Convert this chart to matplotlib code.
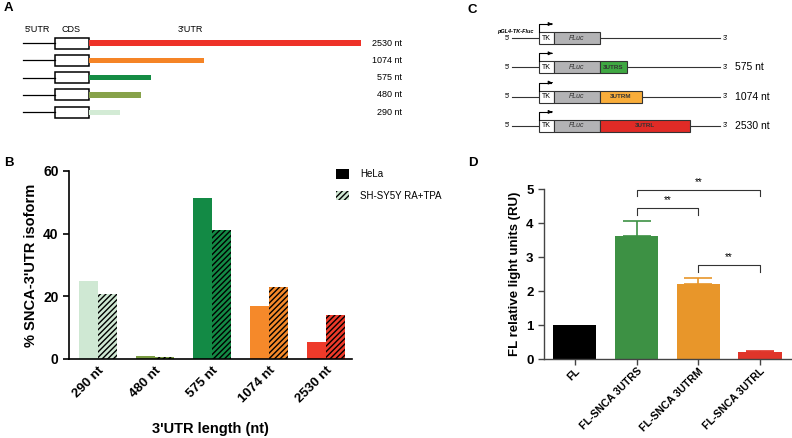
import numpy as np
import matplotlib.pyplot as plt
from matplotlib.patches import Rectangle, Patch

plt.rcParams['font.family'] = ['Liberation Sans', 'DejaVu Sans']
plt.rcParams['hatch.linewidth'] = 1.0

# panel A: 3'UTR isoforms
utr_lengths = [2530, 1074, 575, 480, 290]
utr_colors = ['#ee3228', '#f58426', '#148c44', '#87a24a', '#d3ebd5']

# panel B: isoform distribution
iso_labels = ['290 nt', '480 nt', '575 nt', '1074 nt', '2530 nt']
iso_colors = ['#cfe8d3', '#7a9c42', '#138a45', '#f5892a', '#ee3a2a']
hela = [24.8, 1.0, 51.5, 17.0, 5.5]
shsy5y = [20.8, 0.7, 41.2, 23.1, 14.0]

# panel C: reporter constructs
constructs = ['', '3UTRS', '3UTRM', '3UTRL']
construct_nt = ['', '575 nt', '1074 nt', '2530 nt']
construct_colors = ['none', '#3fa842', '#f9ad3a', '#e12b26']
construct_w = [0, 27, 42, 90]  # schematic box widths (px)

# panel D: luciferase activity
fl_labels = ['FL', 'FL-SNCA 3UTRS', 'FL-SNCA 3UTRM', 'FL-SNCA 3UTRL']
fl_vals = [1.0, 3.63, 2.22, 0.22]
fl_err = [0.0, 0.42, 0.15, 0.03]
fl_colors = ['#000000', '#3d9144', '#e8962a', '#e0352a']
sig_pairs = [(1, 3, 4.97, '**'), (1, 2, 4.44, '**'), (2, 3, 2.76, '**')]

fig = plt.figure(figsize=(7.92, 4.38), dpi=100)

# overlay in pixel coords for the schematics
ax0 = fig.add_axes([0, 0, 1, 1])
ax0.set_xlim(0, 792)
ax0.set_ylim(438, 0)
ax0.axis('off')

for letter, x, y in [('A', 4, 8), ('B', 4, 163), ('C', 468, 10), ('D', 468, 163)]:
    ax0.text(x, y, letter, fontsize=9.5, fontweight='bold', va='center')

# ---- panel A
ax0.text(37, 29, "5'UTR", fontsize=6.5, ha='center', va='center')
ax0.text(71, 29, 'CDS', fontsize=6.5, ha='center', va='center')
ax0.text(190, 29, "3'UTR", fontsize=6.5, ha='center', va='center')
scale_a = 272 / max(utr_lengths)
for i, (n, c) in enumerate(zip(utr_lengths, utr_colors)):
    y = 43 + i * 17.3
    ax0.plot([23, 55], [y, y], color='black', lw=0.9)
    ax0.add_patch(Rectangle((55, y - 5.5), 34, 11, facecolor='white', edgecolor='black', lw=1.1))
    ax0.add_patch(Rectangle((89, y - 2.6), n * scale_a, 5.2, facecolor=c, edgecolor='none'))
    ax0.text(402, y, f'{n} nt', fontsize=6.5, ha='right', va='center')

# ---- panel C
ax0.text(497, 31, 'pGL4-TK-Fluc', fontsize=4, fontstyle='italic', fontweight='bold', va='center')
for i, (name, nt, c, w) in enumerate(zip(constructs, construct_nt, construct_colors, construct_w)):
    y = 38 + i * 29.3
    ax0.text(510, y, "5'", fontsize=5, ha='right', va='center')
    ax0.plot([512, 720], [y, y], color='#333333', lw=0.8, zorder=1)
    ax0.text(723, y, "3'", fontsize=5, ha='left', va='center')
    ax0.add_patch(Rectangle((539, y - 6), 15, 12, facecolor='white', edgecolor='#333333', lw=0.8, zorder=2))
    ax0.text(546.5, y, 'TK', fontsize=5, ha='center', va='center')
    ax0.add_patch(Rectangle((554, y - 6), 46, 12, facecolor='#b3b3b5', edgecolor='#333333', lw=0.8, zorder=2))
    ax0.text(577, y, 'FLuc', fontsize=5, fontstyle='italic', ha='center', va='center', color='#333333')
    if w:
        ax0.add_patch(Rectangle((600, y - 6), w, 12, facecolor=c, edgecolor='#333333', lw=0.8, zorder=2))
        ax0.text(600 + w / 2, y, name, fontsize=4.5, fontweight='bold', ha='center', va='center', color='#333333')
        ax0.text(735, y, nt, fontsize=7.5, ha='left', va='center')
    ax0.plot([539, 539, 551], [y - 6, y - 14, y - 14], color='black', lw=0.8)
    ax0.annotate('', xy=(555, y - 14), xytext=(549, y - 14),
                 arrowprops=dict(arrowstyle='-|>', color='black', lw=0.8, mutation_scale=5))

# ---- panel B
axb = fig.add_axes([69 / 792, 79 / 438, 283 / 792, 188 / 438])
x = np.arange(len(iso_labels))
bw = 0.33
axb.bar(x - bw / 2, hela, bw, color=iso_colors, edgecolor='none')
axb.bar(x + bw / 2, shsy5y, bw, color=iso_colors, edgecolor='black', lw=0, hatch='//////')
axb.set_xlim(-0.51, 4.46)
axb.set_ylim(0, 60)
axb.set_yticks([0, 20, 40, 60])
axb.set_xticks(x)
axb.set_xticklabels(iso_labels, rotation=45, ha='right', rotation_mode='anchor')
for s in ['top', 'right']:
    axb.spines[s].set_visible(False)
for s in ['left', 'bottom']:
    axb.spines[s].set_linewidth(1.2)
axb.tick_params(axis='x', length=0, pad=4)
axb.tick_params(axis='y', length=4, width=1.2)
for lab in axb.get_xticklabels():
    lab.set_fontweight('bold')
    lab.set_fontsize(9.5)
for lab in axb.get_yticklabels():
    lab.set_fontweight('bold')
    lab.set_fontsize(10)
axb.set_ylabel("% SNCA-3'UTR isoform", fontsize=10.5, fontweight='bold', labelpad=4)
axb.set_xlabel("3'UTR length (nt)", fontsize=10.5, fontweight='bold', labelpad=12)
handles = [Patch(facecolor='black', edgecolor='none'),
           Patch(facecolor='#cfe8d3', edgecolor='black', lw=0, hatch='//////')]
axb.legend(handles, ['HeLa', 'SH-SY5Y RA+TPA'], loc='upper left', bbox_to_anchor=(0.93, 1.03),
           frameon=False, fontsize=7, handlelength=1.3, handleheight=1.1, labelspacing=1.2,
           handletextpad=1.2, borderaxespad=0)

# ---- panel D
axd = fig.add_axes([544 / 792, 79 / 438, 248 / 792, 170 / 438])
xd = np.arange(len(fl_labels))
axd.bar(xd, fl_vals, 0.7, color=fl_colors, edgecolor='none', zorder=2)
for xi, v, e, c in zip(xd, fl_vals, fl_err, fl_colors):
    if e:
        axd.errorbar(xi, v, yerr=[[0], [e]], color=c, capsize=10, lw=1.2, capthick=1.2, zorder=3)
axd.set_xlim(-0.5, 3.52)
axd.set_ylim(0, 5)
axd.set_yticks(range(6))
axd.set_xticks(xd)
axd.set_xticklabels(fl_labels, rotation=45, ha='right', rotation_mode='anchor')
for s in ['top', 'right']:
    axd.spines[s].set_visible(False)
for s in ['left', 'bottom']:
    axd.spines[s].set_linewidth(1.0)
    axd.spines[s].set_color('#444444')
axd.tick_params(axis='both', length=4, width=1.0, color='#444444')
axd.tick_params(axis='x', pad=1)
for lab in axd.get_xticklabels():
    lab.set_fontweight('bold')
    lab.set_fontsize(7.6)
for lab in axd.get_yticklabels():
    lab.set_fontweight('bold')
    lab.set_fontsize(9.5)
axd.set_ylabel('FL relative light units (RU)', fontsize=9.5, fontweight='bold', labelpad=4)
for a, b, h, star in sig_pairs:
    axd.plot([a, a, b, b], [h - 0.19, h, h, h - 0.19], color='#333333', lw=0.8, clip_on=False)
    axd.text((a + b) / 2, h + 0.08, star, fontsize=7, ha='center', va='bottom', clip_on=False)

fig.savefig('out.png', dpi=100)
